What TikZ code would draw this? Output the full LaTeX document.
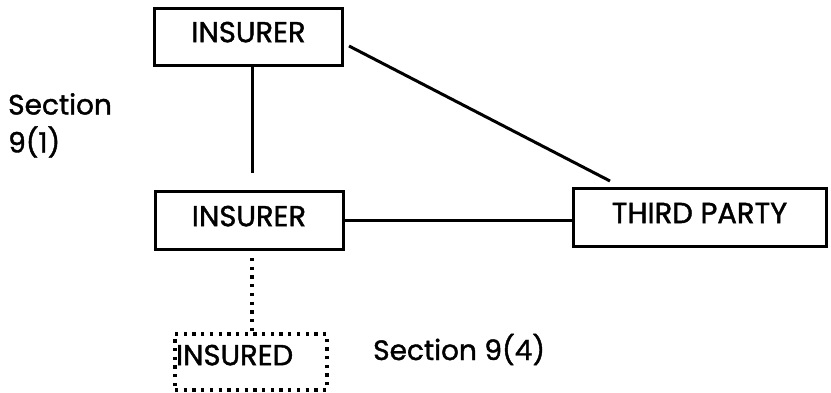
\documentclass[tikz,border=0pt]{standalone}
\usepackage{fontspec}
\setmainfont{Poppins}[RawFeature={embolden=1.4}]
\usetikzlibrary{positioning}
\tikzset{
  party/.style = {
    draw = black,
    line width = 3pt,
    inner sep = 0pt,
    text depth = 10pt,
    font = \fontsize{29}{34}\selectfont
  },
  % the insured sits in a dotted box
  dotparty/.style = {
    party,
    line width = 3.3pt,
    dash pattern = on 3.3pt off 5.4pt,
    text width = 150pt,
    text depth = 14pt,
    align = left
  },
  link/.style = {
    draw = black,
    line width = 3pt
  },
  dotlink/.style = {
    link,
    line width = 3.3pt,
    dash pattern = on 3.3pt off 5.4pt
  },
  note/.style = {
    font = \fontsize{28}{38}\selectfont,
    inner sep = 0pt,
    align = left
  }
}
\begin{document}
\begin{tikzpicture}[x=1pt, y=-1pt]
  \useasboundingbox (0,0) rectangle (831,393);

  \node[party, minimum width=188pt, minimum height=57pt] (insurer1) at (248.5,37) {INSURER};
  \node[party, minimum width=188pt, minimum height=58pt] (insurer2) at (249,221) {INSURER};
  \node[party, minimum width=253pt, minimum height=58pt] (third) at (699.5,218) {THIRD PARTY};
  \node[dotparty, minimum width=152pt, minimum height=56pt] (insured) at (251,362) {INSURED};

  \node[note, anchor=north west] (sec1) at (8,93) {Section\\9(1)};
  \node[note, anchor=base west] (sec4) at (373,360) {Section 9(4)};

  \coordinate (cut1) at (252,173);
  \coordinate (cut2) at (610,181);
  \coordinate (cut3) at (252,258);

  \draw[link] (insurer1.south -| cut1) -- (cut1);
  \draw[link] ([xshift=5pt,yshift=-9pt]insurer1.east) -- (cut2);
  \draw[link] (insurer2.east) -- (insurer2.east -| third.west);
  \draw[dotlink] (cut3) -- (cut3 |- insured.north);
\end{tikzpicture}
\end{document}
